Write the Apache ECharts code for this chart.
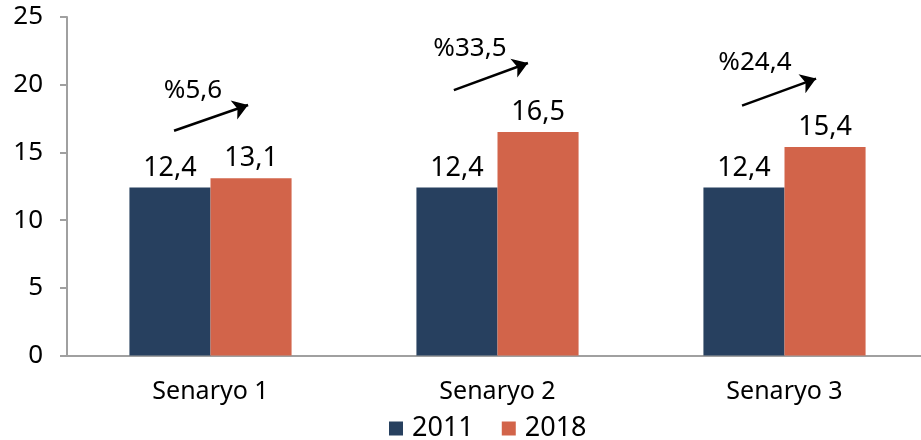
<!DOCTYPE html>
<html>
<head>
<meta charset="utf-8">
<script src="https://cdn.jsdelivr.net/npm/echarts@6/dist/echarts.min.js"></script>
<style>html,body{margin:0;padding:0;background:#fff}#c{width:921px;height:440px}</style>
</head>
<body>
<div id="c"></div>
<script>
const categories = ['Senaryo 1', 'Senaryo 2', 'Senaryo 3'];
const values2011 = [12.4, 12.4, 12.4];
const values2018 = [13.1, 16.5, 15.4];
const changeLabels = ['%5,6', '%33,5', '%24,4'];
// arrow annotations on a hidden 0..3 axis spanning the categories
const arrowStarts = [[0.373, 16.6], [1.348, 19.6], [2.352, 18.45]];
const arrowEnds = [[0.631, 18.5], [1.606, 21.6], [2.610, 20.45]];
const changeLabelPos = [[0.439, 19.6], [1.404, 22.7], [2.397, 21.6]];
const yTicks = [0, 5, 10, 15, 20, 25];

const FONT = 'Noto Sans';
const fmt = v => String(v).replace('.', ',');

const chart = echarts.init(document.getElementById('c'));
chart.setOption({
  animation: false,
  textStyle: { fontFamily: FONT },
  grid: { left: 67, width: 861, top: 17, height: 338.5, containLabel: false, outerBoundsMode: 'none' },
  legend: {
    left: 384, top: 410,
    itemWidth: 14, itemHeight: 14, itemGap: 28,
    icon: 'rect',
    textStyle: { fontFamily: FONT, fontSize: 27, color: '#000', padding: [0, 0, 0, 4] },
    data: ['2011', '2018']
  },
  xAxis: [{
    type: 'category',
    data: categories,
    axisLine: { lineStyle: { color: '#a0a0a0', width: 2 } },
    axisTick: { length: 8, lineStyle: { color: '#a0a0a0', width: 2 } },
    axisLabel: { color: '#000', fontSize: 25, margin: 24, fontFamily: FONT }
  }, {
    type: 'value', min: 0, max: 3, show: false
  }],
  yAxis: {
    type: 'value', min: yTicks[0], max: yTicks[yTicks.length - 1], interval: 5,
    axisLine: { show: true, lineStyle: { color: '#a0a0a0', width: 2 } },
    axisTick: { show: true, length: 7, lineStyle: { color: '#a0a0a0', width: 2 } },
    splitLine: { show: false },
    axisLabel: { color: '#000', fontSize: 26, margin: 24, fontFamily: FONT }
  },
  series: [{
    name: '2011', type: 'bar', data: values2011,
    barGap: '0%', barCategoryGap: '43.5%',
    itemStyle: { color: '#27405f' },
    label: { show: true, position: 'top', distance: 6, color: '#000', fontSize: 27, fontFamily: FONT, formatter: p => fmt(p.value) }
  }, {
    name: '2018', type: 'bar', data: values2018,
    itemStyle: { color: '#d2644a' },
    label: { show: true, position: 'top', distance: 6, color: '#000', fontSize: 27, fontFamily: FONT, formatter: p => fmt(p.value) }
  }, {
    type: 'lines', coordinateSystem: 'cartesian2d', xAxisIndex: 1, yAxisIndex: 0,
    symbol: ['none', 'arrow'], symbolSize: 15,
    lineStyle: { color: '#000', width: 2.5, opacity: 1 },
    data: arrowStarts.map((s, i) => ({ coords: [s, arrowEnds[i]] })),
    silent: true
  }, {
    type: 'scatter', xAxisIndex: 1, yAxisIndex: 0, symbolSize: 0,
    itemStyle: { opacity: 1 },
    data: changeLabelPos.map((p, i) => ({ value: p, name: changeLabels[i] })),
    label: { show: true, position: 'inside', color: '#000', fontSize: 26, fontFamily: FONT, formatter: p => p.name },
    silent: true
  }]
});
</script>
</body>
</html>
